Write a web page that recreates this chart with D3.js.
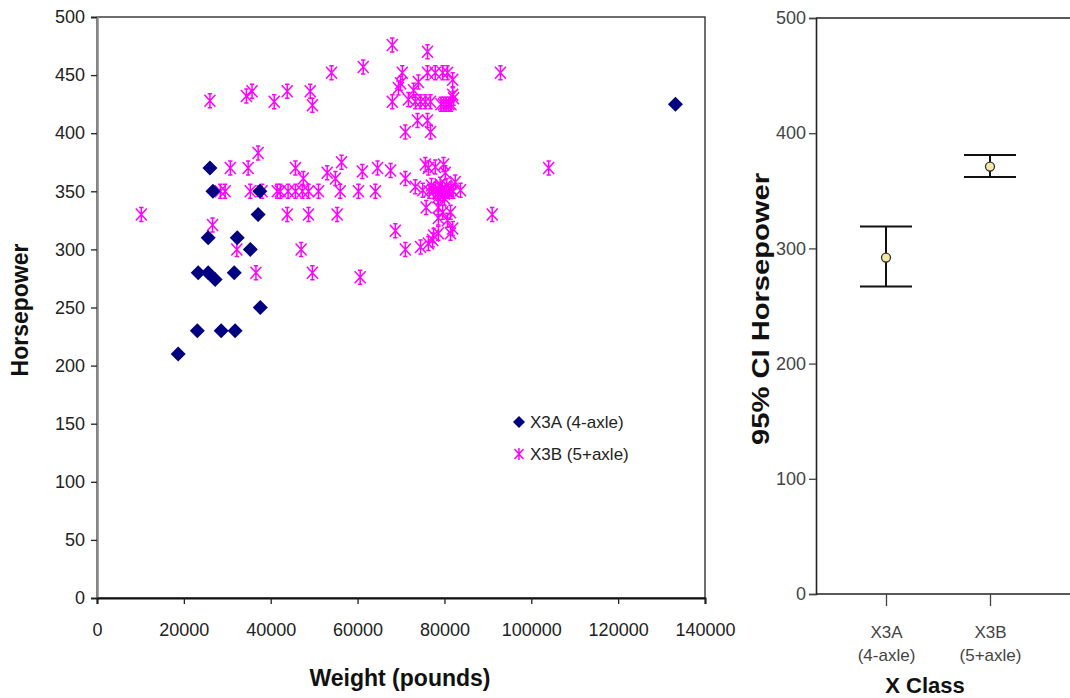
<!DOCTYPE html>
<html><head><meta charset="utf-8">
<script src="https://cdn.jsdelivr.net/npm/d3@7/dist/d3.min.js"></script>
<style>
html,body{margin:0;padding:0;background:#fff;}
svg{display:block;font-family:"Liberation Sans",Arial,sans-serif;}
</style></head>
<body>
<svg id="c" width="1070" height="698"></svg>
<script>
// ---- Data ----
const seriesNames = ["X3A (4-axle)", "X3B (5+axle)"];
const x3a = [
  [18700,210],[23100,230],[28600,230],[31800,230],
  [23300,280],[25600,280],[27200,274],[31600,280],[37600,250],
  [25600,310],[32300,310],[35300,300],
  [26000,370],[26700,350],[37500,350],[37100,330],[133200,425]
];
const x3b = [
  [26000,428],[34400,432],[35700,436],[40800,427],[43800,436],[49100,436],[49600,424],
  [54000,452],[61300,457],[68000,476],[76100,470],[70300,452],[76100,452],[77900,452],
  [79600,452],[80700,452],[92900,452],[81900,446],[69900,443],[72900,437],[69400,439],
  [74000,444],[81900,433],[68000,427],[71700,429],[73300,427],[74500,427],[75600,427],
  [76800,427],[79200,425],[79800,425],[80400,425],[81000,425],[81500,425],[82100,430],
  [73800,411],[76100,411],[71000,401],[76800,401],
  [37100,383],[30700,370],[34800,370],[45700,370],[47500,361],[53000,366],[54900,361],
  [56300,375],[61100,367],[64600,370],[67600,368],[71000,361],[73300,354],[75600,373],
  [76300,370],[77900,371],[79800,373],[80200,366],[82500,358],[104000,370],
  [28400,350],[29500,350],[35300,350],[38000,350],[41500,350],[42200,350],[44000,350],
  [45700,350],[47300,350],[48700,350],[51000,350],[56000,350],[60200,350],[64100,350],
  [75000,351],[76500,350],[77500,350],[78000,352],[78600,348],[79000,350],[79500,352],
  [80000,348],[80500,350],[81000,350],[81500,352],[82000,350],[83700,351],[77000,355],
  [79000,356],[80500,355],[78500,345],[80000,344],
  [10200,330],[26600,321],[43800,330],[48700,330],[55300,330],[91000,330],[75800,336],
  [78600,336],[79600,332],[81400,332],[78600,327],[80700,325],[81900,318],[81400,314],
  [68700,316],[77500,312],[78600,314],[77300,308],[71000,300],[74500,302],[76300,305],
  [32200,300],[47000,300],[36600,280],[49600,280],[60600,276]
];
const xTicks = [0,20000,40000,60000,80000,100000,120000,140000];
const yTicks = [0,50,100,150,200,250,300,350,400,450,500];

// Right panel: 95% CI
const ciCats = ["X3A", "X3B"];
const ciSub = ["(4-axle)", "(5+axle)"];
const ciMean = [292, 371];
const ciLow = [267, 362];
const ciHigh = [319, 381];
const ciTicks = [0,100,200,300,400,500];

// ---- Drawing ----
const svg = d3.select("#c");
const font = "'Liberation Sans',Arial,sans-serif";

// Left scatter
const L = {l:97, r:705, t:17, b:598};
const x = d3.scaleLinear().domain([0,140000]).range([L.l, L.r]);
const y = d3.scaleLinear().domain([0,500]).range([L.b, L.t]);

const g = svg.append("g");
g.append("rect").attr("x",L.l).attr("y",L.t).attr("width",L.r-L.l).attr("height",L.b-L.t)
  .attr("fill","#fff").attr("stroke","#222").attr("stroke-width",1.3);

const ya = g.append("g").attr("transform",`translate(${L.l},0)`)
  .call(d3.axisLeft(y).tickValues(yTicks).tickSize(6).tickPadding(6).tickFormat(d3.format("d")));
ya.select(".domain").attr("stroke","#888").attr("stroke-width",2.5);
ya.selectAll(".tick line").attr("stroke","#222").attr("stroke-width",1.3);
ya.selectAll("text").attr("font-size",18).attr("fill","#222").attr("font-family",font);

const xa = g.append("g").attr("transform",`translate(0,${L.b})`)
  .call(d3.axisBottom(x).tickValues(xTicks).tickSize(6).tickPadding(19).tickFormat(d3.format("d")));
xa.select(".domain").attr("stroke","#111").attr("stroke-width",2);
xa.selectAll(".tick line").attr("stroke","#222").attr("stroke-width",1.3);
xa.selectAll("text").attr("font-size",18).attr("fill","#222").attr("font-family",font);

const starPath = "M0,-7V7M-5.5,-6L5.5,6M5.5,-6L-5.5,6M-2.2,-7H2.2M-2.2,7H2.2";
const diamondPath = "M0,-7.5L7.5,0L0,7.5L-7.5,0Z";

g.append("g").selectAll("path").data(x3b).join("path")
  .attr("d",starPath).attr("transform",d=>`translate(${x(d[0])},${y(d[1])})`)
  .attr("fill","none").attr("stroke","#ff00ff").attr("stroke-width",1.5);
g.append("g").selectAll("path").data(x3a).join("path")
  .attr("d",diamondPath).attr("transform",d=>`translate(${x(d[0])},${y(d[1])})`)
  .attr("fill","#000080");

// legend
const leg = g.append("g");
leg.append("path").attr("d","M0,-6L6,0L0,6L-6,0Z").attr("fill","#000080")
  .attr("transform","translate(519,422)");
leg.append("path").attr("d","M0,-6V6M-4.5,-5L4.5,5M4.5,-5L-4.5,5").attr("fill","none")
  .attr("stroke","#ff00ff").attr("stroke-width",1.5).attr("transform","translate(519,454)");
leg.selectAll("text").data(seriesNames).join("text")
  .attr("x",530).attr("y",(d,i)=>428+i*32).text(d=>d)
  .attr("font-size",17).attr("fill","#222").attr("font-family",font);

// titles
g.append("text").attr("x",400).attr("y",686).attr("text-anchor","middle")
  .attr("font-size",23).attr("font-weight","bold").attr("fill","#111").attr("font-family",font)
  .text("Weight (pounds)");
g.append("text").attr("transform","translate(28,310) rotate(-90)").attr("text-anchor","middle")
  .attr("font-size",23).attr("font-weight","bold").attr("fill","#111").attr("font-family",font)
  .text("Horsepower");

// Right CI panel
const R = {l:816, r:1075, t:18, b:594};
const yr = d3.scaleLinear().domain([0,500]).range([R.b, R.t]);
const xr = d3.scalePoint().domain(ciCats).range([886, 990]);
const gr = svg.append("g");
gr.append("line").attr("x1",R.l).attr("x2",R.r).attr("y1",R.t).attr("y2",R.t)
  .attr("stroke","#222").attr("stroke-width",1.6);
const yra = gr.append("g").attr("transform",`translate(${R.l},0)`)
  .call(d3.axisLeft(yr).tickValues(ciTicks).tickSize(7).tickPadding(3).tickFormat(d3.format("d")));
yra.select(".domain").attr("stroke","#222").attr("stroke-width",1.6);
yra.selectAll(".tick line").attr("stroke","#444").attr("stroke-width",1.3);
yra.selectAll("text").attr("font-size",18).attr("fill","#444").attr("font-family",font);

const xra = gr.append("g").attr("transform",`translate(0,${R.b})`)
  .call(d3.axisBottom(xr).tickSize(12).tickPadding(20));
xra.select(".domain").attr("d",`M${R.l},0H${R.r}`).attr("stroke","#222").attr("stroke-width",1.6);
xra.selectAll(".tick line").attr("stroke","#444").attr("stroke-width",1.3);
xra.selectAll(".tick text").attr("font-size",17).attr("fill","#444").attr("font-family",font)
  .each(function(d,i){
    const t = d3.select(this); t.text(null);
    t.append("tspan").attr("x",0).attr("dy","0.71em").text(d);
    t.append("tspan").attr("x",0).attr("dy","1.35em").text(ciSub[i]);
  });

const ci = ciCats.map((c,i)=>({c, m:ciMean[i], lo:ciLow[i], hi:ciHigh[i]}));
const cw = 26;
const eb = gr.append("g").selectAll("g").data(ci).join("g");
eb.append("line").attr("x1",d=>xr(d.c)).attr("x2",d=>xr(d.c)).attr("y1",d=>yr(d.lo)).attr("y2",d=>yr(d.hi))
  .attr("stroke","#111").attr("stroke-width",2);
eb.append("line").attr("x1",d=>xr(d.c)-cw).attr("x2",d=>xr(d.c)+cw).attr("y1",d=>yr(d.lo)).attr("y2",d=>yr(d.lo))
  .attr("stroke","#111").attr("stroke-width",2);
eb.append("line").attr("x1",d=>xr(d.c)-cw).attr("x2",d=>xr(d.c)+cw).attr("y1",d=>yr(d.hi)).attr("y2",d=>yr(d.hi))
  .attr("stroke","#111").attr("stroke-width",2);
eb.append("circle").attr("cx",d=>xr(d.c)).attr("cy",d=>yr(d.m)).attr("r",4.5)
  .attr("fill","#f3eaa8").attr("stroke","#333").attr("stroke-width",1.3);

gr.append("text").attr("transform","translate(769,309) rotate(-90)").attr("text-anchor","middle")
  .attr("font-size",24).attr("font-weight","bold").attr("fill","#111").attr("font-family",font)
  .attr("textLength",272).attr("lengthAdjust","spacingAndGlyphs")
  .text("95% CI Horsepower");
gr.append("text").attr("x",925).attr("y",693).attr("text-anchor","middle")
  .attr("font-size",22).attr("font-weight","bold").attr("fill","#111").attr("font-family",font)
  .text("X Class");
</script>
</body></html>
